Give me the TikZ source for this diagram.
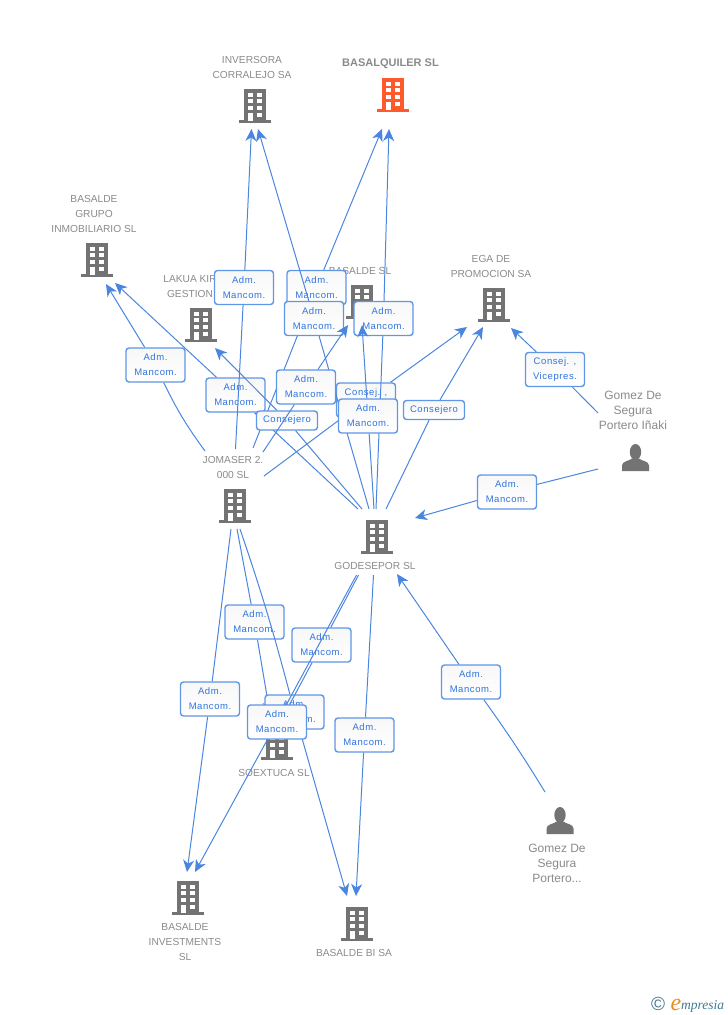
\documentclass[tikz,border=0pt]{standalone}
\usepackage{fontspec}
\usetikzlibrary{arrows.meta}
\setmainfont{Liberation Sans}
\newfontfamily\lblfont[LetterSpace=6]{Liberation Sans}
\newfontfamily\logofont{Liberation Serif}
\definecolor{entgray}{HTML}{737373}
\definecolor{txtgray}{HTML}{8A8A8A}
\definecolor{mainorange}{HTML}{FF5A2B}
\definecolor{linkblue}{HTML}{4A86E0}
\definecolor{boxblue}{HTML}{5F96E6}
\definecolor{lbltext}{HTML}{2F74DE}
\definecolor{logoteal}{HTML}{3F7A90}
\definecolor{logoorange}{HTML}{F08A1D}
\tikzset{
  ent/.style={text=txtgray, align=center, inner sep=0pt, font=\fontsize{10.2}{15}\selectfont},
  perso/.style={text=txtgray, align=center, inner sep=0pt, font=\fontsize{12}{15}\selectfont},
  rel/.style={draw=boxblue, line width=1.4pt, rounded corners=3pt, top color=black!3, bottom color=white,
    text=lbltext, align=center, inner sep=0pt, minimum width=59pt, minimum height=34pt, font=\lblfont\fontsize{9.5}{15}\selectfont},
  relsmall/.style={rel, minimum width=61pt, minimum height=19pt},
  link/.style={draw=linkblue, line width=1pt},
  linkto/.style={link, -{Stealth[length=12pt,width=11pt,inset=3.5pt]}},
  building/.pic={
    \fill[pic actions] (-11,-16.7) rectangle (11,14.5);
    \fill[pic actions] (-15.7,14) rectangle (15.7,16.7);
    \foreach \yy in {-12.7,-6.7,0,7.3} {
      \fill[white] (-6.9,\yy) rectangle ++(4.7,4);
      \fill[white] (2.4,\yy) rectangle ++(4.8,4);
    }
    \fill[white] (-6.9,9) rectangle (-2.2,14.5);
  },
  person/.pic={
    \fill[pic actions] (0,-5.5) ellipse (5.7 and 8);
    \fill[pic actions] (-13.5,13.5) -- (-13.5,8) .. controls (-13.5,3.5) and (-6,3.5) .. (-3.5,1)
      -- (3.5,1) .. controls (6,3.5) and (13.5,3.5) .. (13.5,8) -- (13.5,13.5) -- cycle;
  }
}
\begin{document}
\begin{tikzpicture}[x=1pt,y=-1pt]
\useasboundingbox (0,0) rectangle (728,1015);

% Companies
\node[ent] (inversora) at (252,67.5) {INVERSORA\\CORRALEJO SA};
\node[ent, font=\bfseries\fontsize{11}{15}\selectfont] (basalquiler) at (390.5,64) {BASALQUILER SL};
\node[ent] (grupo) at (94,214) {BASALDE\\GRUPO\\INMOBILIARIO SL};
\node[ent] (lakua) at (190,286.5) {LAKUA KIR\\GESTION};
\node[ent] (basalde) at (360,271) {BASALDE SL};
\node[ent] (ega) at (491,266.5) {EGA DE\\PROMOCION SA};
\node[ent] (jomaser) at (233,467.5) {JOMASER 2.\\000 SL};
\node[ent] (godesepor) at (375,566) {GODESEPOR SL};
\node[ent] (soextuca) at (274,773) {SOEXTUCA SL};
\node[ent] (investments) at (185,942) {BASALDE\\INVESTMENTS\\SL};
\node[ent] (basaldebi) at (354,953) {BASALDE BI SA};

\pic[entgray] at (255,106) {building};
\pic[mainorange] at (393,95) {building};
\pic[entgray] at (97,260) {building};
\pic[entgray] at (201,325) {building};
\pic[entgray] at (362,302) {building};
\pic[entgray] at (494,305) {building};
\pic[entgray] at (235,506) {building};
\pic[entgray] at (377,537) {building};
\pic[entgray] at (277,743) {building};
\pic[entgray] at (188,898) {building};
\pic[entgray] at (357,924) {building};

% People
\node[perso] (gomez) at (633,410) {Gomez De\\Segura\\Portero Iñaki};
\node[perso] (gomezb) at (557,863) {Gomez De\\Segura\\Portero...};
\pic[entgray] at (635.5,457.5) {person};
\pic[entgray] at (560,820.5) {person};

% Free ends
\coordinate (jomA) at (205,451);
\coordinate (jomB) at (235.5,449);
\coordinate (jomC) at (253,448);
\coordinate (jomD) at (263,452);
\coordinate (jomE) at (264,476);
\coordinate (jomF) at (231,529);
\coordinate (jomG) at (237,529);
\coordinate (jomH) at (240,529);
\coordinate (godA) at (358,509);
\coordinate (godB) at (362,509);
\coordinate (godC) at (369,509);
\coordinate (godD) at (374,509);
\coordinate (godE) at (376,509);
\coordinate (godF) at (386,509);
\coordinate (godG) at (356.5,575);
\coordinate (godH) at (358.5,575);
\coordinate (godI) at (373.5,575);
\coordinate (gomA) at (598,413);
\coordinate (gomB) at (598,469);
\coordinate (gomC) at (545,792);
\coordinate (invA) at (251.5,129);
\coordinate (invB) at (258,129);
\coordinate (balA) at (382,129);
\coordinate (balB) at (389,129);
\coordinate (gruA) at (106,284);
\coordinate (gruB) at (115,283);
\coordinate (lakA) at (215,348);
\coordinate (basA) at (348,325);
\coordinate (basB) at (362,325);
\coordinate (egaA) at (467,327);
\coordinate (egaB) at (483,327);
\coordinate (egaC) at (511,328);
\coordinate (godJ) at (415,518);
\coordinate (godK) at (397,574);
\coordinate (soeA) at (270,714);
\coordinate (soeB) at (284,715);
\coordinate (invesA) at (187,872);
\coordinate (invesB) at (195,872);
\coordinate (biA) at (347,896);
\coordinate (biB) at (356,896);

% Upper relations
\node[rel] (relF) at (235.5,395) {Adm.\\Mancom.};
\draw[link] (godA) -- (relF);
\draw[linkto] (relF) -- (gruB);

\node[rel] (relG) at (155.5,365) {Adm.\\Mancom.};
\draw[link] (jomA) to[bend left=5] (relG);
\draw[linkto] (relG) -- (gruA);

\node[rel] (relB) at (316.5,287.5) {Adm.\\Mancom.};
\draw[link] (jomC) -- (relB);
\draw[linkto] (relB) -- (balA);

\node[rel] (relI) at (366,400) {Consej. ,\\\phantom{V}};
\draw[link] (jomE) -- (relI);
\draw[linkto] (relI) -- (egaA);

\node[rel] (relC) at (314,318.5) {Adm.\\Mancom.};
\draw[link] (godC) -- (relC);
\draw[linkto] (relC) -- (invB);

\node[rel] (relD) at (383.5,318.5) {Adm.\\Mancom.};
\draw[link] (godE) -- (relD);
\draw[linkto] (relD) -- (balB);

\node[relsmall] (relH) at (287,420.5) {Consejero};
\draw[link] (godB) -- (relH);
\draw[linkto] (relH) -- (lakA);

\node[rel] (relE) at (306,387) {Adm.\\Mancom.};
\draw[link] (jomD) -- (relE);
\draw[linkto] (relE) -- (basA);

\node[rel] (relA) at (244,287.5) {Adm.\\Mancom.};
\draw[link] (jomB) -- (relA);
\draw[linkto] (relA) -- (invA);

\node[rel] (relJ) at (368,416) {Adm.\\Mancom.};
\draw[link] (godD) -- (relJ);
\draw[linkto] (relJ) -- (basB);

\node[relsmall] (relK) at (434,410) {Consejero};
\draw[link] (godF) -- (relK);
\draw[linkto] (relK) -- (egaB);

\node[rel] (relL) at (555,369.5) {Consej. ,\\Vicepres.};
\draw[link] (gomA) -- (relL);
\draw[linkto] (relL) -- (egaC);

\node[rel] (relM) at (507,492) {Adm.\\Mancom.};
\draw[link] (gomB) -- (relM);
\draw[linkto] (relM) -- (godJ);

% Lower relations
\node[rel] (relN) at (471,682) {Adm.\\Mancom.};
\draw[link] (gomC) to[bend right=2] (relN);
\draw[linkto] (relN) -- (godK);

\node[rel] (relO) at (210,699) {Adm.\\Mancom.};
\draw[link] (jomF) -- (relO);
\draw[linkto] (relO) -- (invesA);

\node[rel] (relP) at (254.5,622) {Adm.\\Mancom.};
\draw[link] (jomG) -- (relP);
\draw[linkto] (relP) -- (soeA);

\node[rel] (relQ) at (294.5,712) {Adm.\\Mancom.};
\draw[link] (jomH) to[bend left=2] (relQ);
\draw[linkto] (relQ) -- (biA);

\node[rel] (relS) at (321.5,645) {Adm.\\Mancom.};
\draw[link] (godH) -- (relS);
\draw[linkto] (relS) -- (soeB);

\node[rel] (relR) at (277,722) {Adm.\\Mancom.};
\draw[link] (godG) -- (relR);
\draw[linkto] (relR) -- (invesB);

\node[rel] (relT) at (364.5,735) {Adm.\\Mancom.};
\draw[link] (godI) -- (relT);
\draw[linkto] (relT) -- (biB);

% Logo
\node[text=logoteal, inner sep=0pt, font=\fontsize{19}{19}\selectfont] (logoc) at (658,1004) {©};
\node[text=logoorange, inner sep=0pt, anchor=base, font=\logofont\itshape\fontsize{24}{24}\selectfont] (logoe) at (676,1010) {e};
\node[text=logoteal, inner sep=0pt, anchor=base west, font=\logofont\itshape\fontsize{13.5}{14}\selectfont] (logot) at (681,1009) {mpresia};
\end{tikzpicture}
\end{document}
